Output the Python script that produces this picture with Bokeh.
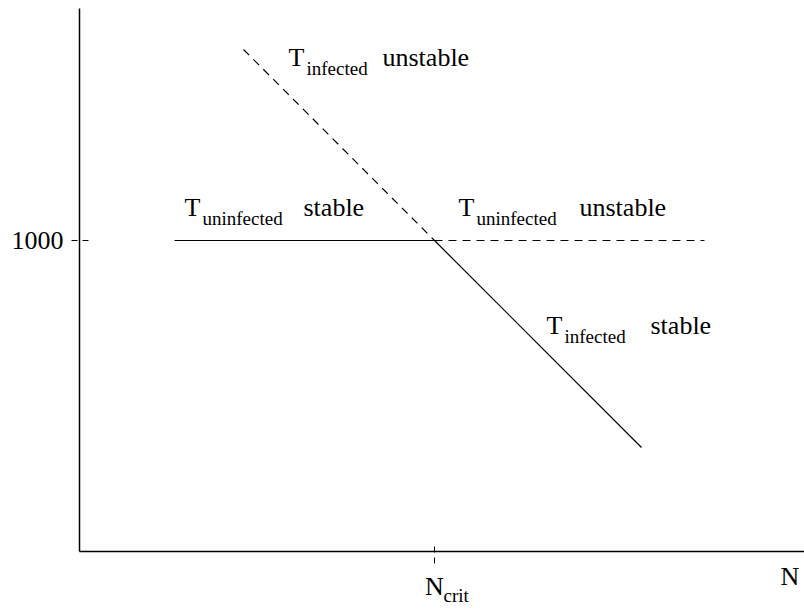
from bokeh.plotting import figure
from bokeh.models import Range1d, FixedTicker
from bokeh.core.properties import value
from bokeh.embed import file_html
from bokeh.resources import INLINE

# Equilibrium branches: cell count T against parameter N
N_CRIT = 260
T_UNINFECTED = 1000

uninf_stable_n = [0, N_CRIT]
uninf_stable_t = [T_UNINFECTED, T_UNINFECTED]
uninf_unstable_n = [N_CRIT, 530]
uninf_unstable_t = [T_UNINFECTED, T_UNINFECTED]

inf_unstable_n = [69, N_CRIT]
inf_unstable_t = [1382, T_UNINFECTED]
inf_stable_n = [N_CRIT, 467]
inf_stable_t = [T_UNINFECTED, 586]

y_ticks = [T_UNINFECTED]
y_tick_labels = {T_UNINFECTED: "1000"}
x_ticks = [N_CRIT]
x_tick_labels = {N_CRIT: "N"}

# branch annotations: anchor (N, T), subscript, stability word, word offset
lab_n = [114, 10, 284, 372]
lab_t = [1346, 1046, 1046, 810]
lab_sub = ["infected", "uninfected", "uninfected", "infected"]
lab_word = ["unstable", "stable", "unstable", "stable"]
lab_word_dx = [94, 119, 121, 104]

# extent of the drawn axes (data units)
N_MIN, N_MAX = -95, 630
T_MIN, T_MAX = 378, 1464

FONT = "'Liberation Serif'"
BIG = "26px"
SMALL = "19px"

p = figure(width=804, height=609,
           x_range=Range1d(-174, 630), y_range=Range1d(262, 1480),
           output_backend="svg", toolbar_location=None,
           min_border=0, min_border_left=0, min_border_right=0,
           min_border_top=0, min_border_bottom=0,
           background_fill_color="white", border_fill_color="white")
p.outline_line_color = None
p.xgrid.visible = False
p.ygrid.visible = False

p.line(uninf_stable_n, uninf_stable_t, line_color="black", line_width=1.2)
p.line(uninf_unstable_n, uninf_unstable_t, line_color="black", line_width=1.2,
       line_dash="8 6")
p.line(inf_unstable_n, inf_unstable_t, line_color="black", line_width=1.2,
       line_dash="8 6")
p.line(inf_stable_n, inf_stable_t, line_color="black", line_width=1.2)

for ax in (p.xaxis[0], p.yaxis[0]):
    ax.axis_line_color = "black"
    ax.axis_line_width = 1.5
    ax.major_tick_line_color = "black"
    ax.major_tick_line_width = 1
    ax.major_tick_line_dash = "6 5"
    ax.minor_tick_line_color = None
    ax.major_label_text_font = FONT
    ax.major_label_text_font_size = BIG
    ax.major_label_text_color = "black"
    ax.major_label_standoff = 8

p.yaxis.fixed_location = N_MIN
p.yaxis.bounds = (T_MIN, T_MAX)
p.yaxis.ticker = FixedTicker(ticks=y_ticks)
p.yaxis.major_label_overrides = y_tick_labels
p.yaxis.major_tick_out = 8
p.yaxis.major_tick_in = 9

p.xaxis.fixed_location = T_MIN
p.xaxis.bounds = (N_MIN, N_MAX)
p.xaxis.ticker = FixedTicker(ticks=x_ticks)
p.xaxis.major_label_overrides = x_tick_labels
p.xaxis.major_tick_out = 12
p.xaxis.major_tick_in = 9

common = dict(text_font=value(FONT), text_color="black",
              text_align="left", text_baseline="alphabetic")
p.text(lab_n, lab_t, text=["T"] * 4, text_font_size=BIG,
       y_offset=-10, **common)
p.text(lab_n, lab_t, text=lab_sub, text_font_size=SMALL,
       x_offset=18, y_offset=1, **common)
p.text(lab_n, lab_t, text=lab_word, text_font_size=BIG,
       x_offset=lab_word_dx, y_offset=-10, **common)

# subscript of the critical tick label, and the axis name
p.text([N_CRIT], [276], text=["crit"], text_font_size=SMALL,
       x_offset=9, y_offset=-7, **common)
p.text([606], [308], text=["N"], text_font_size=BIG,
       y_offset=-10, **common)

open("out.html", "w").write(file_html(p, INLINE))
